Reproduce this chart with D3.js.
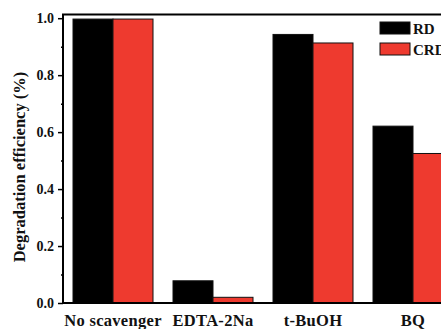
<!DOCTYPE html>
<html>
<head>
<meta charset="utf-8">
<script src="https://cdn.jsdelivr.net/npm/d3@7.9.0/dist/d3.min.js"></script>
<style>
  body { margin: 0; background: #fff; }
  svg { display: block; }
  text { font-family: "Liberation Serif", "Times New Roman", serif; font-weight: bold; }
</style>
</head>
<body>
<svg id="chart" width="441" height="329"></svg>
<script>
const categories = ['No scavenger', 'EDTA-2Na', 't-BuOH', 'BQ'];
const seriesNames = ['RD', 'CRD'];
const rdValues = [0.997, 0.078, 0.943, 0.621];
const crdValues = [0.997, 0.02, 0.913, 0.525];
const yTicks = [0.0, 0.2, 0.4, 0.6, 0.8, 1.0];
const colors = ['#000000', '#ee3a2f'];

const svg = d3.select('#chart');
const plotLeft = 63, plotTop = 14.5, plotBottom = 303;

let x = d3.scaleBand()
    .domain(categories)
    .range([plotLeft, plotLeft + 100 * categories.length])
    .paddingInner(0.2)
    .paddingOuter(0.1);

let xSub = d3.scaleBand()
    .domain(seriesNames)
    .range([0, x.bandwidth()]);

let y = d3.scaleLinear()
    .domain([0, 1.013])
    .range([plotBottom, plotTop]);

let data = categories.map((c, i) => ({ cat: c, values: [rdValues[i], crdValues[i]] }));

// bars
let groups = svg.selectAll('g.group')
    .data(data)
    .enter()
    .append('g')
    .attr('class', 'group')
    .attr('transform', d => `translate(${x(d.cat)},0)`);

groups.selectAll('rect')
    .data(d => d.values.map((v, i) => ({ key: seriesNames[i], value: v, idx: i })))
    .enter()
    .append('rect')
    .attr('x', d => xSub(d.key))
    .attr('y', d => y(d.value))
    .attr('width', xSub.bandwidth())
    .attr('height', d => plotBottom - y(d.value))
    .attr('fill', d => colors[d.idx])
    .attr('stroke', '#111')
    .attr('stroke-width', 1);

// y axis (major + minor ticks)
let minorTicks = d3.range(0.1, 1.0, 0.2);
svg.append('g')
    .attr('transform', `translate(${plotLeft},0)`)
    .call(d3.axisLeft(y).tickValues(minorTicks).tickSize(2).tickFormat(''))
    .call(g => g.select('.domain').remove())
    .selectAll('line').attr('stroke-width', 1.5);

let yAxis = svg.append('g')
    .attr('transform', `translate(${plotLeft},0)`)
    .call(d3.axisLeft(y).tickValues(yTicks).tickSize(5).tickPadding(4).tickFormat(d3.format('.1f')));
yAxis.select('.domain').remove();
yAxis.selectAll('line').attr('stroke-width', 1.5);
yAxis.selectAll('text').style('font-size', '14px').attr('fill', '#111');

// frame lines
svg.append('line').attr('x1', plotLeft).attr('x2', plotLeft).attr('y1', plotTop).attr('y2', plotBottom)
    .attr('stroke', '#000').attr('stroke-width', 2);
svg.append('line').attr('x1', plotLeft - 1).attr('x2', 441).attr('y1', plotBottom).attr('y2', plotBottom)
    .attr('stroke', '#000').attr('stroke-width', 2);
svg.append('line').attr('x1', plotLeft - 1).attr('x2', 441).attr('y1', plotTop).attr('y2', plotTop)
    .attr('stroke', '#000').attr('stroke-width', 2);

// x axis labels
svg.append('g')
    .attr('transform', `translate(0,${plotBottom})`)
    .call(d3.axisBottom(x).tickSize(0).tickPadding(11))
    .call(g => g.select('.domain').remove())
    .selectAll('text')
    .style('font-size', '16.5px')
    .style('letter-spacing', '0.3px')
    .attr('fill', '#111');

// y title
svg.append('text')
    .attr('transform', `translate(25,167) rotate(-90)`)
    .attr('text-anchor', 'middle')
    .style('font-size', '16.5px')
    .attr('fill', '#111')
    .text('Degradation efficiency (%)');

// legend
let legend = svg.append('g').attr('transform', 'translate(380,22)');
seriesNames.forEach((name, i) => {
    legend.append('rect')
        .attr('x', 0).attr('y', i * 21)
        .attr('width', 30).attr('height', 12)
        .attr('fill', colors[i]).attr('stroke', '#111').attr('stroke-width', 1);
    legend.append('text')
        .attr('x', 33).attr('y', i * 21 + 12)
        .style('font-size', '15px')
        .attr('fill', '#111')
        .text(name);
});
</script>
</body>
</html>
